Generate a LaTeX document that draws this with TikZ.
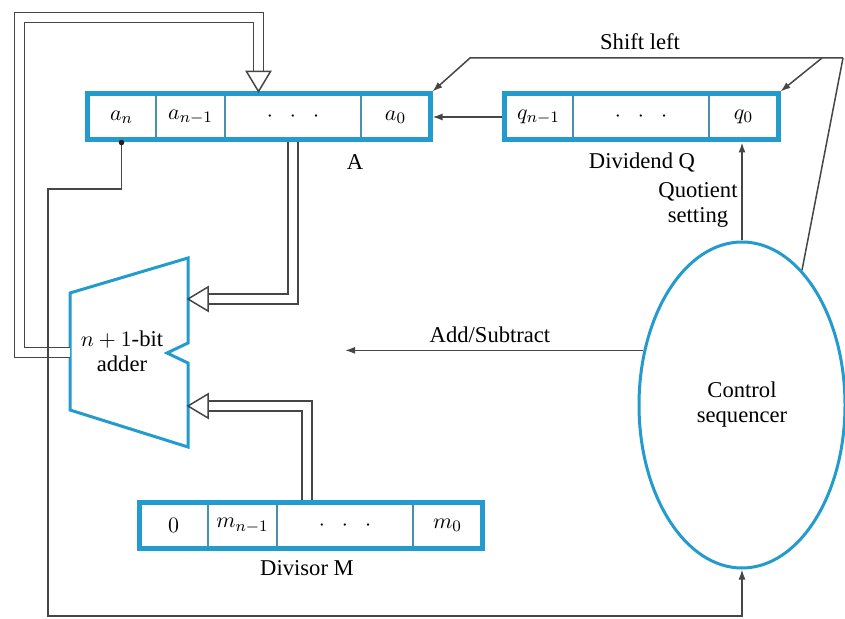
\documentclass[tikz,border=0pt]{standalone}
\usepackage{fontspec}
\setmainfont{Liberation Serif}
\usetikzlibrary{positioning,fit,shapes.geometric,arrows.meta}
\definecolor{regblue}{RGB}{35,155,205}
\definecolor{wiregray}{RGB}{70,70,70}
\tikzset{
  wire/.style={line width=0.75pt, draw=wiregray},
  sig/.style={wire, -{Latex[length=5pt,width=3.5pt]}},
  bus/.style={wire, double, double distance=4.2pt, shorten >=10pt},
  bitcell/.style={draw=regblue!60!gray, line width=0.5pt, minimum width=34pt,
    minimum height=22.5pt, inner sep=0pt},
  dotcell/.style={bitcell, minimum width=67.5pt},
  regframe/.style={draw=regblue, line width=2.5pt, inner sep=0pt},
  bushead/.pic={\draw[wire, fill=white] (0,0) -- (-20,12) -- (-20,-12) -- cycle;}
}
\begin{document}
\begin{tikzpicture}[x=0.5pt,y=-0.5pt,font=\fontsize{11.3}{12.5}\selectfont]
    \useasboundingbox (0,0) rectangle (845,619);

    \node[bitcell] (a1) at (121.5,117) {$a_n$};
    \node[bitcell,right=0pt of a1] (a2) {$a_{n-1}$};
    \node[dotcell,right=0pt of a2] (a3) {$\cdot\;\;\cdot\;\;\cdot$};
    \node[bitcell,right=0pt of a3] (a4) {$a_0$};
    \node[regframe,fit=(a1)(a4)] (regA) {};
    \node at (355,162) {A};

    \node[bitcell] (q1) at (538.5,117) {$q_{n-1}$};
    \node[dotcell,right=0pt of q1] (q2) {$\cdot\;\;\cdot\;\;\cdot$};
    \node[bitcell,right=0pt of q2] (q3) {$q_0$};
    \node[regframe,fit=(q1)(q3)] (regQ) {};
    \node at (642,162) {Dividend Q};

    \node[bitcell] (m1) at (173.5,525.5) {$0$};
    \node[bitcell,right=0pt of m1] (m2) {$m_{n-1}$};
    \node[dotcell,right=0pt of m2] (m3) {$\cdot\;\;\cdot\;\;\cdot$};
    \node[bitcell,right=0pt of m3] (m4) {$m_0$};
    \node[regframe,fit=(m1)(m4)] (regM) {};
    \node at (307,568) {Divisor M};

    \node[ellipse, draw=regblue, line width=1.5pt, minimum width=103pt,
      minimum height=163pt, inner sep=0pt, align=center] (ctrl) at (742,405) {Control\\sequencer};

    \draw[regblue, line width=1.5pt] (70,293) -- (188,258) -- (188,343) -- (167,353)
      -- (188,363) -- (188,447) -- (70,410) -- cycle;
    \node[align=center] (add) at (122,351) {$n+1$-bit\\adder};
    \coordinate (addA) at (188,299);
    \coordinate (addM) at (188,406);
    \coordinate (addout) at (70,352.5);

    \coordinate (fbc) at (19.5,17.5);
    \coordinate (mbus) at (307,500);
    \draw[bus] (addout) -| (fbc) -| (regA.north);
    \draw[bus] (a3.south |- regA.south) |- (addA);
    \draw[bus] (mbus) |- (addM);
    \pic[rotate=-90] at (regA.north) {bushead};
    \pic[rotate=180] at (addA) {bushead};
    \pic[rotate=180] at (addM) {bushead};

    \draw[sig] (regQ.west) -- (regA.east);
    \coordinate (sl1) at (470,58);
    \coordinate (sl2) at (822,58);
    \coordinate (slr) at (843,58);
    \draw[sig] (slr) -- (sl1) -- (regA.north east);
    \draw[sig] (sl2) -- (regQ.north east);
    \draw[wire] (slr) -- (ctrl.66);
    \node at (640,42) {Shift left};

    \draw[sig] (ctrl.north) -- (ctrl.north |- regQ.south);
    \node[align=center] at (698,205) {Quotient\\setting};

    \coordinate (asend) at (345,352);
    \draw[sig] (ctrl.151) -- (ctrl.151 -| asend);
    \node at (490,335) {Add/Subtract};

    \coordinate (sgn0) at (a1.south |- regA.south);
    \coordinate (sgn1) at (48,189);
    \coordinate (sgn2) at (48,616);
    \draw[sig] (sgn0) |- (sgn1) -- (sgn2) -| (ctrl.south);
    \fill[wiregray!50!black] (sgn0) circle[radius=1.4pt];
\end{tikzpicture}
\end{document}
